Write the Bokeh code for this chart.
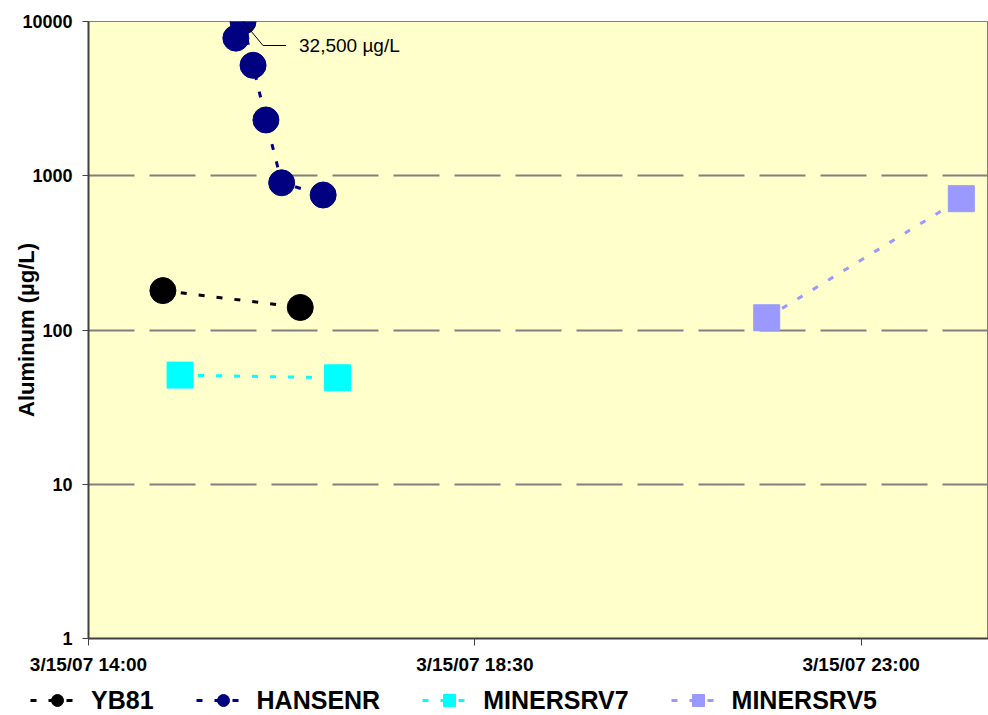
import pandas as pd
from bokeh.plotting import figure
from bokeh.layouts import column, row
from bokeh.models import Legend, LegendItem, FixedTicker, Label, Range1d
from bokeh.embed import file_html
from bokeh.resources import INLINE

# ---------------- data ----------------
BASE = "3/15/07 00:00"
X_START = "3/15/07 14:00"
X_END = "3/16/07 00:29"
X_TICKS = ["3/15/07 14:00", "3/15/07 18:30", "3/15/07 23:00"]
Y_TICKS = [1, 10, 100, 1000, 10000]
Y_MIN = 1
Y_MAX = 10000

YB81_TIMES = ["3/15/07 14:52", "3/15/07 16:28"]
YB81_VALUES = [180, 140]

HANSENR_TIMES = ["3/15/07 15:43", "3/15/07 15:48", "3/15/07 15:55",
                 "3/15/07 16:04", "3/15/07 16:15", "3/15/07 16:44"]
HANSENR_VALUES = [7800, 32500, 5200, 2300, 900, 750]

MINERSRV7_TIMES = ["3/15/07 15:04", "3/15/07 16:54"]
MINERSRV7_VALUES = [51, 49]

MINERSRV5_TIMES = ["3/15/07 21:54", "3/16/07 00:10"]
MINERSRV5_VALUES = [120, 710]

ANNOTATION_TEXT = "32,500 µg/L"
ANNOTATION_TIME = "3/15/07 15:48"

FMT = "%m/%d/%y %H:%M"
base_ts = pd.to_datetime(BASE, format=FMT)


def hours(t):
    return (pd.to_datetime(t, format=FMT) - base_ts).total_seconds() / 3600.0


FONT = "Liberation Sans"
W = 988
H_PLOT, H_LEG = 680, 35
LEFT, RIGHT, TOP, BOTTOM = 88, 0, 21, 42

x0, x1 = hours(X_START), hours(X_END)
p = figure(width=W, height=H_PLOT, y_axis_type="log",
           x_range=Range1d(x0, x1), y_range=Range1d(Y_MIN, Y_MAX),
           output_backend="svg", toolbar_location=None,
           min_border_left=LEFT, min_border_right=RIGHT,
           min_border_top=TOP, min_border_bottom=BOTTOM,
           background_fill_color="#FFFFCC", border_fill_color="white")
p.outline_line_color = "#808080"
p.outline_line_width = 1

# separate strip for the legend (its copies of the series lie outside its view)
lp = figure(width=W, height=H_LEG, x_range=Range1d(0, 1), y_range=Range1d(0, 1),
            output_backend="svg", toolbar_location=None,
            x_axis_location=None, y_axis_location=None,
            min_border_left=0, min_border_right=0, min_border_top=0, min_border_bottom=0,
            background_fill_color="white", border_fill_color="white")
lp.outline_line_color = None
lp.grid.visible = False

series = [
    ("YB81", YB81_TIMES, YB81_VALUES, "black", "circle"),
    ("HANSENR", HANSENR_TIMES, HANSENR_VALUES, "#000080", "circle"),
    ("MINERSRV7", MINERSRV7_TIMES, MINERSRV7_VALUES, "#00FFFF", "square"),
    ("MINERSRV5", MINERSRV5_TIMES, MINERSRV5_VALUES, "#9999FF", "square"),
]

items = []
for name, times, vals, color, marker in series:
    xs = [hours(t) for t in times]
    ys = [min(v, Y_MAX) for v in vals]
    p.line(xs, ys, line_color=color, line_width=3, line_dash="6 12")
    p.scatter(xs, ys, marker=marker, size=26, fill_color=color,
              line_color=color, line_width=1)
    lr = lp.line(xs, ys, line_color=color, line_width=3, line_dash="6 12")
    sr = lp.scatter(xs, ys, marker=marker, size=26, fill_color=color,
                    line_color=color, line_width=1)
    items.append(LegendItem(label=name, renderers=[lr, sr]))

# annotation leader for the off-scale value
frame_w = W - LEFT - RIGHT
frame_h = H_PLOT - TOP - BOTTOM
px_per_hour = frame_w / (x1 - x0)
px_per_decade = frame_h / 4.0
ax = hours(ANNOTATION_TIME)
lead_x = [ax, ax + 20 / px_per_hour, ax + 43 / px_per_hour]
lead_y = [Y_MAX, Y_MAX * 10 ** (-24 / px_per_decade), Y_MAX * 10 ** (-24 / px_per_decade)]
p.line(lead_x, lead_y, line_color="black", line_width=1)
p.add_layout(Label(x=ax, y=Y_MAX, x_offset=56, y_offset=-24, text=ANNOTATION_TEXT,
                   text_baseline="middle", text_font=FONT, text_font_size="19px",
                   text_color="black"))

# axes
p.xaxis.ticker = FixedTicker(ticks=[hours(t) for t in X_TICKS])
p.xaxis.major_label_overrides = {hours(t): t for t in X_TICKS}
p.yaxis.ticker = FixedTicker(ticks=Y_TICKS)
p.yaxis.major_label_overrides = {v: str(v) for v in Y_TICKS}

for ax_ in (p.xaxis, p.yaxis):
    ax_.axis_line_color = "#404040"
    ax_.axis_line_width = 2
    ax_.major_tick_line_color = "#404040"
    ax_.major_tick_line_width = 1
    ax_.major_tick_in = 0
    ax_.minor_tick_line_color = None
    ax_.major_label_text_font = FONT
    ax_.major_label_text_font_style = "bold"
    ax_.major_label_text_color = "black"

p.xaxis.major_label_text_font_size = "19px"
p.yaxis.major_label_text_font_size = "18px"
p.xaxis.major_tick_out = 7
p.xaxis.major_label_standoff = 8
p.yaxis.major_tick_out = 6
p.yaxis.major_label_standoff = 10

p.yaxis.axis_label = "Aluminum (µg/L)"
p.yaxis.axis_label_text_font = FONT
p.yaxis.axis_label_text_font_style = "bold"
p.yaxis.axis_label_text_font_size = "22px"
p.yaxis.axis_label_text_color = "black"
p.yaxis.axis_label_standoff = -20

p.xgrid.visible = False
p.ygrid.grid_line_color = "#808080"
p.ygrid.grid_line_width = 2
p.ygrid.grid_line_dash = "46 15"

legend = Legend(items=items, location=(30, 0), orientation="horizontal",
                padding=0, margin=0, spacing=42, glyph_width=54, glyph_height=30,
                label_standoff=7, label_text_font=FONT,
                label_text_font_style="bold", label_text_font_size="25px",
                label_text_color="black", border_line_color=None,
                background_fill_alpha=0)
lp.add_layout(legend)

open("out.html", "w").write(file_html(column(p, row(lp), spacing=0), INLINE))
